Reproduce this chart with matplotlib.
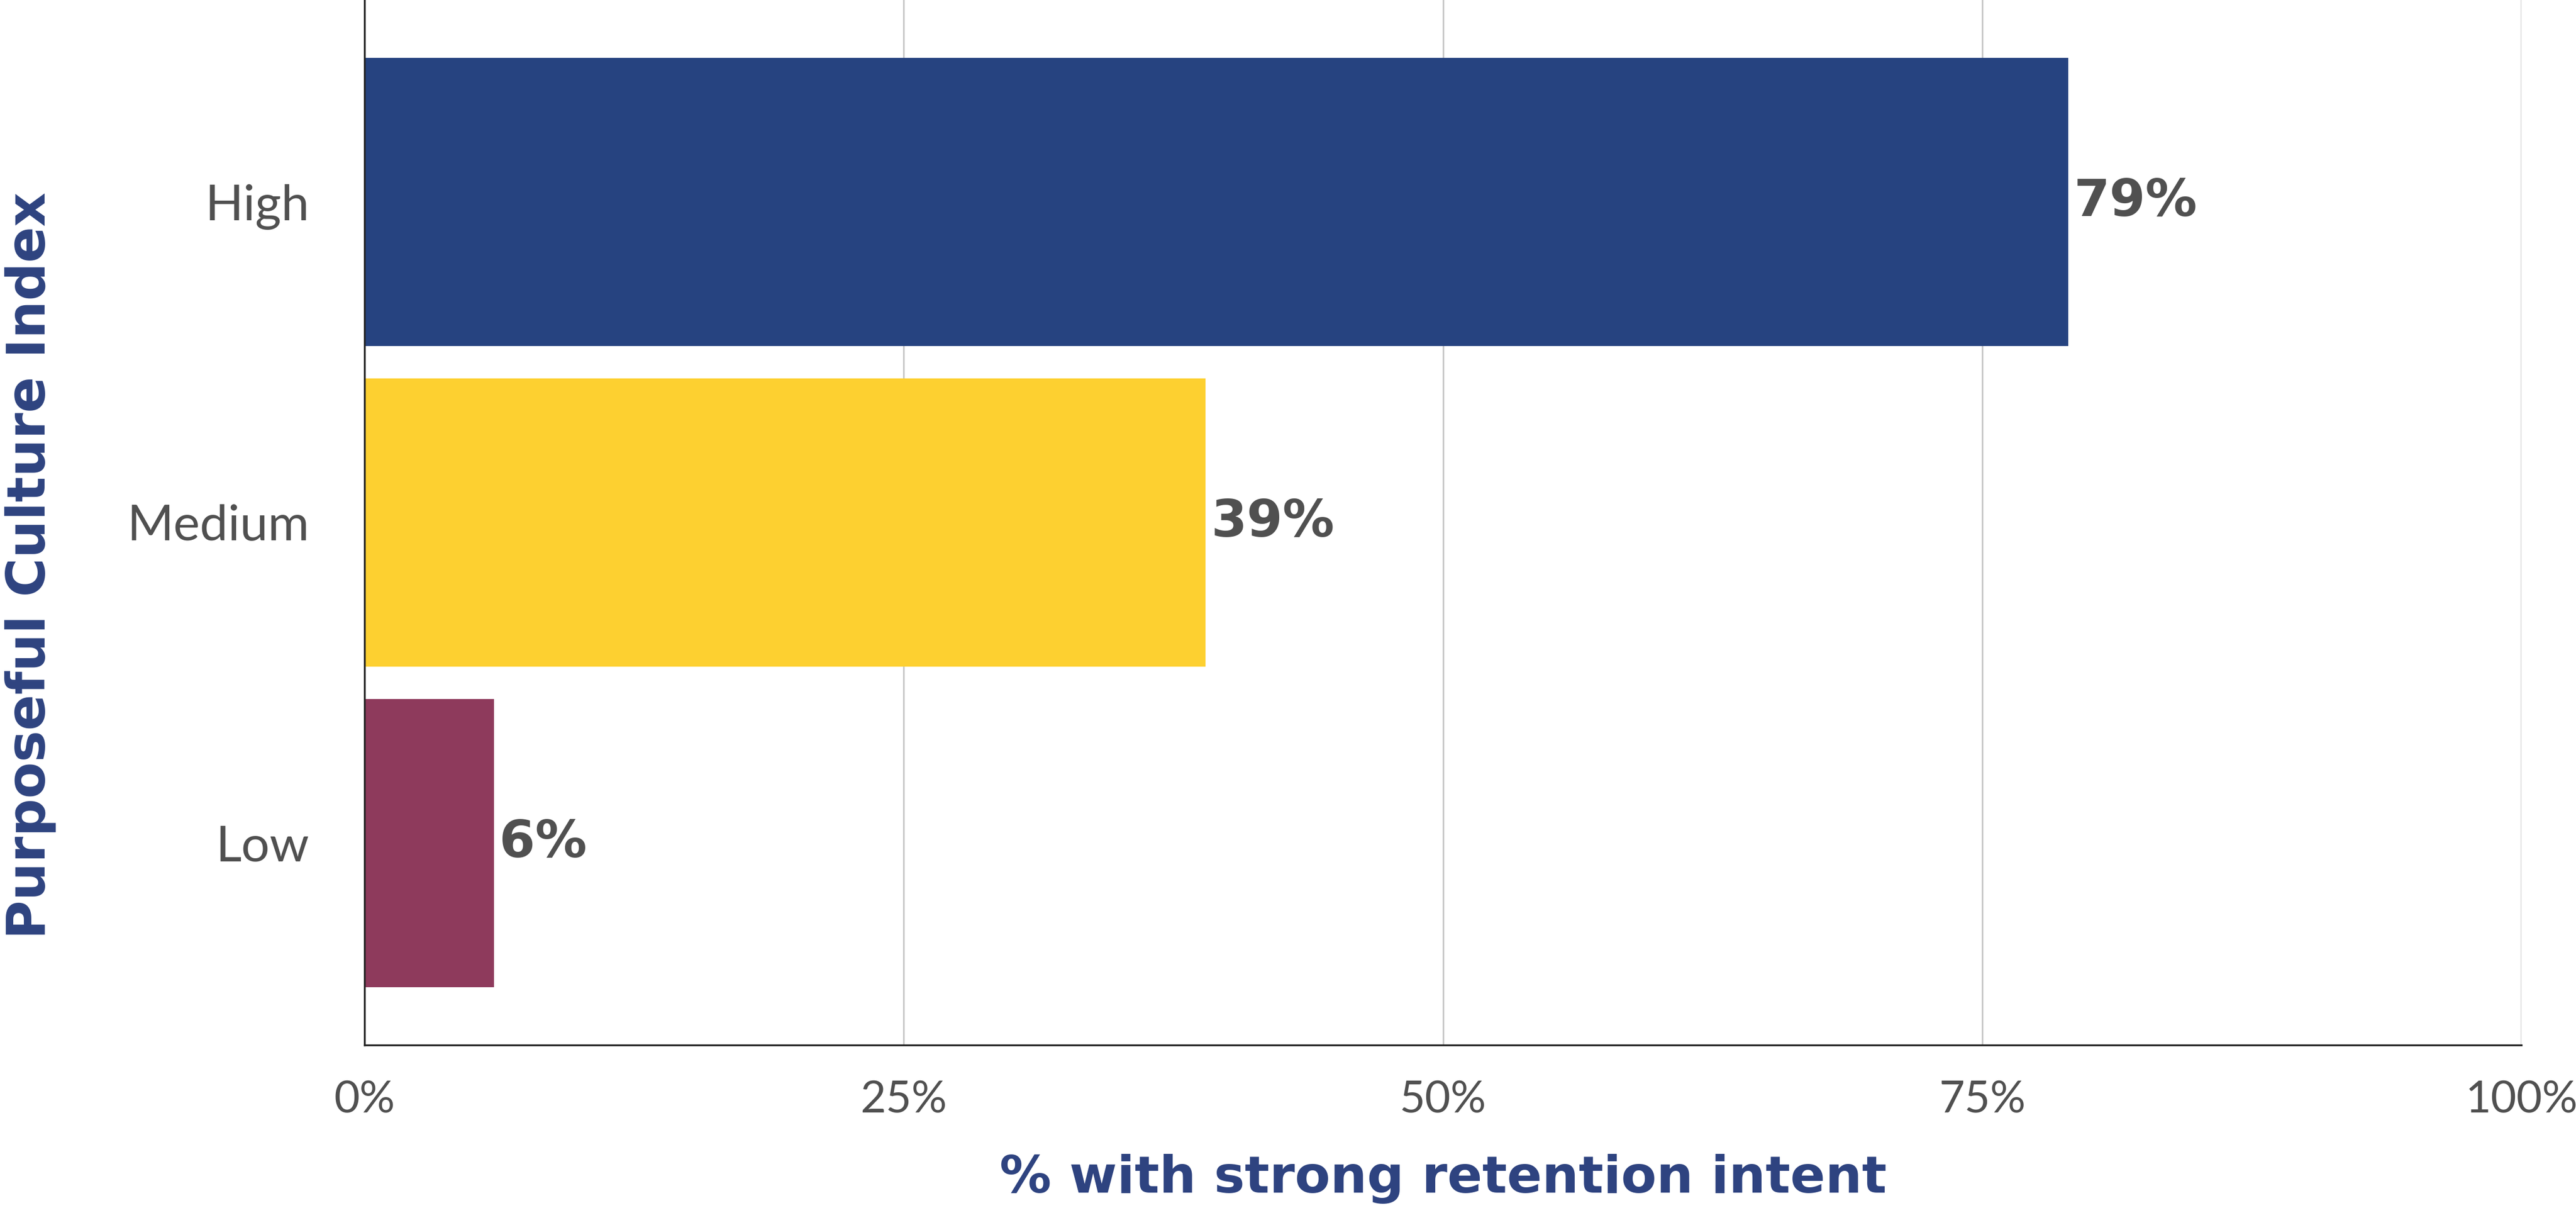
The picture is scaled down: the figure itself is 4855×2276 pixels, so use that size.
import matplotlib.pyplot as plt
from matplotlib.ticker import PercentFormatter

# retention intent by purposeful culture index level
levels = ["Low", "Medium", "High"]
retention = [6, 39, 79]
bar_colors = ["#8E3A5C", "#FDD030", "#264380"]

x_ticks = [0, 25, 50, 75, 100]

navy = "#2E4380"
grey = "#505050"

fig = plt.figure(figsize=(48.55, 22.76), dpi=100)
ax = fig.add_axes([0.1415, 0.1349, 0.8373, 0.8651])

ypos = list(range(len(levels)))
bars = ax.barh(ypos, retention, height=0.9, color=bar_colors, zorder=2)

ax.set_xlim(0, 100)
ax.set_ylim(-0.63, 2.63)
ax.set_xticks(x_ticks)
ax.xaxis.set_major_formatter(PercentFormatter(decimals=0))
ax.set_yticks(ypos)
ax.set_yticklabels(levels)

ax.grid(axis="x", color="#C8C8C8", linewidth=2.2, zorder=0)
ax.set_axisbelow(True)

for side in ["top", "right"]:
    ax.spines[side].set_visible(False)
for side in ["left", "bottom"]:
    ax.spines[side].set_color("#222222")
    ax.spines[side].set_linewidth(2.5)

ax.tick_params(axis="both", length=0, colors=grey)
ax.tick_params(axis="x", pad=48, labelsize=60)
ax.tick_params(axis="y", pad=75, labelsize=68)
for lbl in ax.get_xticklabels() + ax.get_yticklabels():
    lbl.set_family("Lato")
    lbl.set_weight("normal")

# value labels at the end of each bar
for b, v in zip(bars, retention):
    ax.text(b.get_width() + 0.25, b.get_y() + b.get_height() / 2, f"{v}%",
            va="center", ha="left", fontsize=70, fontweight="bold",
            color=grey, family="DejaVu Sans")

ax.set_xlabel("% with strong retention intent", fontsize=70, fontweight="bold",
              color=navy, family="DejaVu Sans")
ax.xaxis.set_label_coords(0.5, -0.104)
ax.set_ylabel("Purposeful Culture Index", fontsize=72, fontweight="bold",
              color=navy, family="DejaVu Sans")
ax.yaxis.set_label_coords(-0.143, 0.459)

fig.savefig("out.png", dpi=100)
